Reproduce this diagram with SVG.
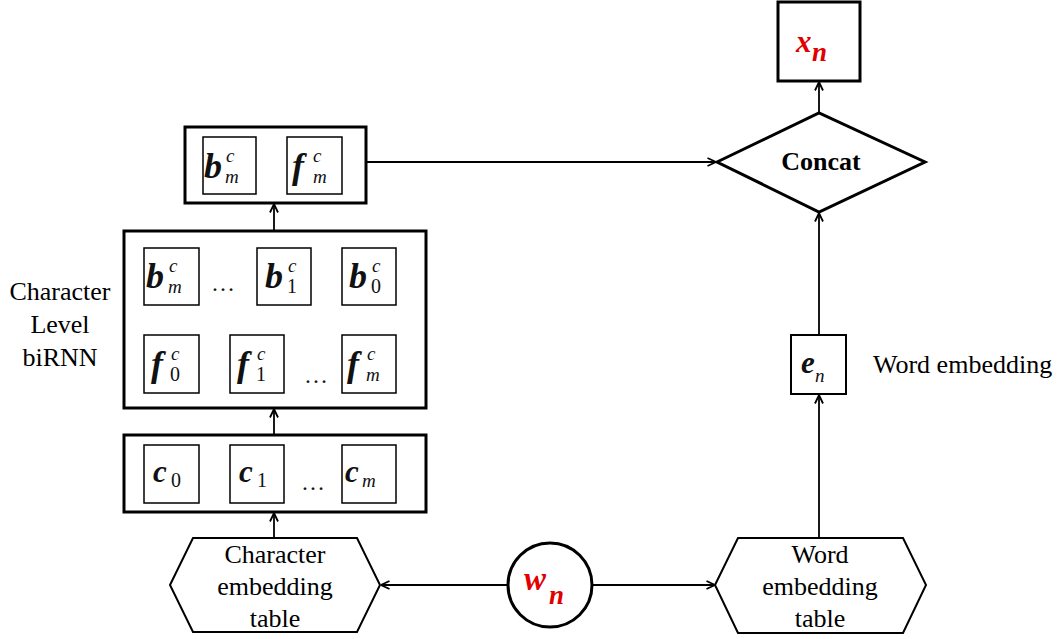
<svg xmlns="http://www.w3.org/2000/svg" width="1063" height="639" viewBox="0 0 1063 639">
<style>
.thick{fill:#fff;stroke:#000;stroke-width:3}
.thin{fill:#fff;stroke:#000;stroke-width:1.5}
.med{fill:#fff;stroke:#000;stroke-width:2}
text{font-family:'Liberation Serif','Times New Roman','DejaVu Serif',serif}
.lbl{font-size:26px;fill:#000}
.bold{font-weight:bold}
.m{font-size:36px;font-weight:bold;font-style:italic;fill:#111}
.mc{font-size:31px;font-weight:bold;font-style:italic;fill:#111}
.s{font-size:19px;font-style:italic;fill:#111}
.d{font-size:20px;fill:#111}
.red{fill:#e00000}
.dots{font-size:24px;fill:#111}
.conn line{stroke:#000;stroke-width:1.8;marker-end:url(#arr)}
</style>
<defs>
<marker id="arr" viewBox="0 0 10 10" refX="9.5" refY="5" markerWidth="10" markerHeight="10" markerUnits="userSpaceOnUse" orient="auto">
<path d="M1,1 L9.5,5 L1,9" fill="none" stroke="#000" stroke-width="1.8"/>
</marker>
</defs>
<rect width="1063" height="639" fill="#fff"/>

<g class="conn" id="connectors">
<line x1="366" y1="162" x2="716" y2="162"/>
<line x1="819" y1="113" x2="819" y2="82"/>
<line x1="819" y1="335" x2="819" y2="213"/>
<line x1="819" y1="538" x2="819" y2="395"/>
<line x1="508" y1="585" x2="381" y2="585"/>
<line x1="592" y1="585" x2="715" y2="585"/>
<line x1="274" y1="538" x2="274" y2="513"/>
<line x1="274" y1="435" x2="274" y2="409"/>
<line x1="274" y1="231" x2="274" y2="204"/>
<line x1="342" y1="277" x2="312" y2="277"/>
<line x1="257" y1="277" x2="240" y2="277"/>
<line x1="199" y1="365" x2="229" y2="365"/>
<line x1="284" y1="365" x2="302" y2="365"/>
</g>

<g id="top-box">
<rect class="thick" x="185" y="127" width="181" height="76"/>
<rect class="thin" x="203" y="137" width="53" height="57"/>
<text class="m" x="204" y="178">b</text><text class="s" x="226" y="162">c</text><text class="s" x="225" y="183">m</text>
<rect class="thin" x="287" y="137" width="55" height="57"/>
<text class="m" x="292" y="178">f</text><text class="s" x="313" y="162">c</text><text class="s" x="313" y="183">m</text>
</g>

<g id="birnn-box">
<rect class="thick" x="124" y="231" width="302" height="177"/>
<rect class="thin" x="144" y="248" width="55" height="57"/>
<text class="m" x="146" y="288">b</text><text class="s" x="169" y="272">c</text><text class="s" x="168" y="293">m</text>
<text class="dots" x="211" y="291">…</text>
<rect class="thin" x="257" y="248" width="54" height="57"/>
<text class="m" x="265" y="288">b</text><text class="s" x="288" y="272">c</text><text class="d" x="287" y="293">1</text>
<rect class="thin" x="342" y="248" width="54" height="57"/>
<text class="m" x="349" y="288">b</text><text class="s" x="372" y="272">c</text><text class="d" x="371" y="293">0</text>
<rect class="thin" x="144" y="335" width="55" height="58"/>
<text class="m" x="151" y="376">f</text><text class="s" x="171" y="360">c</text><text class="d" x="170" y="381">0</text>
<rect class="thin" x="230" y="335" width="54" height="58"/>
<text class="m" x="237" y="376">f</text><text class="s" x="257" y="360">c</text><text class="d" x="256" y="381">1</text>
<text class="dots" x="304" y="383">…</text>
<rect class="thin" x="342" y="335" width="54" height="58"/>
<text class="m" x="347" y="376">f</text><text class="s" x="367" y="360">c</text><text class="s" x="366" y="381">m</text>
</g>

<g id="char-box">
<rect class="thick" x="124" y="435" width="302" height="77"/>
<rect class="thin" x="144" y="445" width="55" height="58"/>
<text class="mc" x="153" y="482">c</text><text class="d" x="171" y="487">0</text>
<rect class="thin" x="230" y="445" width="54" height="58"/>
<text class="mc" x="239" y="482">c</text><text class="d" x="257" y="487">1</text>
<text class="dots" x="301" y="490">…</text>
<rect class="thin" x="342" y="445" width="54" height="58"/>
<text class="mc" x="345" y="482">c</text><text class="s" x="362" y="487">m</text>
</g>

<g id="birnn-label">
<text class="lbl" x="60" y="300" text-anchor="middle">Character</text>
<text class="lbl" x="60" y="333" text-anchor="middle">Level</text>
<text class="lbl" x="60" y="366" text-anchor="middle">biRNN</text>
</g>

<g id="char-table">
<polygon class="med" points="170,585 193,538 357,538 380,585 357,632 193,632"/>
<text class="lbl" x="275" y="563" text-anchor="middle">Character</text>
<text class="lbl" x="275" y="595" text-anchor="middle">embedding</text>
<text class="lbl" x="275" y="627" text-anchor="middle">table</text>
</g>

<g id="wn">
<circle class="thick" cx="550" cy="585" r="42"/>
<text class="mc red" x="524" y="590" style="font-size:33px">w</text><text class="mc red" x="549" y="604" style="font-size:27px">n</text>
</g>

<g id="word-table">
<polygon class="med" points="715,585 738,538 903,538 926,585 903,633 738,633"/>
<text class="lbl" x="820" y="563" text-anchor="middle">Word</text>
<text class="lbl" x="820" y="595" text-anchor="middle">embedding</text>
<text class="lbl" x="820" y="627" text-anchor="middle">table</text>
</g>

<g id="en">
<rect class="med" x="791" y="335" width="55" height="59"/>
<text class="mc" x="801" y="373">e</text><text class="s" x="815" y="382">n</text>
<text class="lbl" x="873" y="373">Word embedding</text>
</g>

<g id="concat">
<polygon class="thick" points="717,162 819,113 925,162 819,212"/>
<text class="lbl bold" x="821" y="170" text-anchor="middle">Concat</text>
</g>

<g id="xn">
<rect class="thick" x="778" y="2" width="82" height="79"/>
<text class="mc red" x="796" y="52">x</text><text class="mc red" x="812" y="61" style="font-size:27px">n</text>
</g>
</svg>
